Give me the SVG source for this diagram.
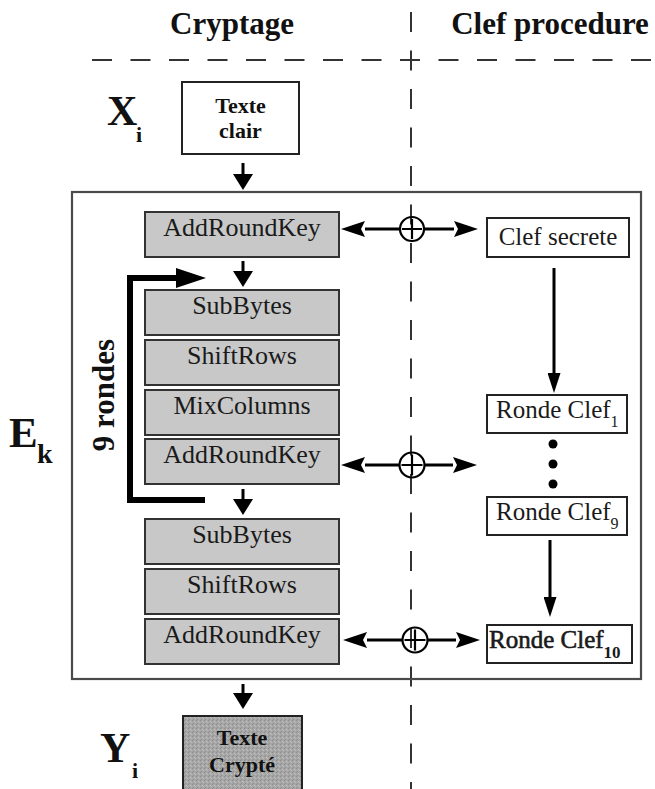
<svg xmlns="http://www.w3.org/2000/svg" width="655" height="789" viewBox="0 0 655 789">
<style>
text{font-family:'Liberation Serif','Times New Roman',serif}
.hdr{font-weight:bold;font-size:31px;fill:#111}
.big{font-weight:bold;fill:#111}
.lbl{font-size:26px;fill:#1a1a1a;text-anchor:middle}
.key{font-size:25px;fill:#1a1a1a}
.btx{font-weight:bold;font-size:22px;fill:#111;text-anchor:middle}
.step{fill:#c8c8c8;stroke:#333;stroke-width:2}
.wbox{fill:#fff;stroke:#222;stroke-width:2}
.dash{fill:none;stroke:#333;stroke-width:2;stroke-dasharray:20 18.5}
.ln{fill:none;stroke:#000;stroke-width:3}
.xor{fill:none;stroke:#000;stroke-width:2.2}
</style>
<defs>
<marker id="hd" viewBox="0 0 24 16" markerWidth="24" markerHeight="16" refX="0" refY="8" orient="auto" markerUnits="userSpaceOnUse"><path d="M0,0 L24,8 L0,16 L4,8 Z" fill="#000"/></marker>
<marker id="dn" viewBox="0 0 16 20" markerWidth="16" markerHeight="20" refX="0" refY="10" orient="auto" markerUnits="userSpaceOnUse"><path d="M0,0 L16,10 L0,20 Z" fill="#000"/></marker>
<marker id="kd" viewBox="0 0 20 13" markerWidth="20" markerHeight="13" refX="0" refY="6.5" orient="auto" markerUnits="userSpaceOnUse"><path d="M0,0 L20,6.5 L0,13 Z" fill="#000"/></marker>
<marker id="lp" viewBox="0 0 30 20" markerWidth="30" markerHeight="20" refX="0" refY="10" orient="auto" markerUnits="userSpaceOnUse"><path d="M0,0 L30,10 L0,20 Z" fill="#000"/></marker>
<pattern id="grain" width="4" height="4" patternUnits="userSpaceOnUse"><rect width="4" height="4" fill="#a6a6a6"/><rect x="0" y="0" width="1" height="1" fill="#8c8c8c"/><rect x="2" y="1" width="1" height="1" fill="#c4c4c4"/><rect x="1" y="3" width="1" height="1" fill="#909090"/><rect x="3" y="2" width="1" height="1" fill="#bcbcbc"/></pattern>
</defs>

<g id="headers">
<text class="hdr" x="232" y="34" text-anchor="middle">Cryptage</text>
<text class="hdr" x="550" y="34" text-anchor="middle">Clef procedure</text>
</g>

<g id="dividers">
<path class="dash" d="M92,60 H655"/>
<path class="dash" d="M411,12 V789"/>
</g>

<g id="Xi"><text class="big" x="107" y="125" font-size="42">X</text><text class="big" x="136" y="142" font-size="22">i</text></g>
<g id="texte-clair">
<rect class="wbox" x="182" y="82" width="117" height="72"/>
<text class="btx" x="240.5" y="113">Texte</text>
<text class="btx" x="240.5" y="138">clair</text>
</g>

<g id="Ek-box"><rect x="72" y="192" width="569" height="487" fill="none" stroke="#4a4a4a" stroke-width="2.2"/></g>
<g id="Ek"><text class="big" x="9" y="447" font-size="43">E</text><text class="big" x="37" y="463" font-size="28">k</text></g>
<g id="rondes"><text class="big" font-size="31" text-anchor="middle" transform="translate(114,395) rotate(-90)">9 rondes</text></g>

<g id="ark0"><rect class="step" x="145" y="212" width="194" height="45"/><text class="lbl" x="242" y="236">AddRoundKey</text></g>
<g id="sb1"><rect class="step" x="145" y="290" width="194" height="45"/><text class="lbl" x="242" y="314">SubBytes</text></g>
<g id="sr1"><rect class="step" x="145" y="340" width="194" height="45"/><text class="lbl" x="242" y="364">ShiftRows</text></g>
<g id="mc1"><rect class="step" x="145" y="390" width="194" height="45"/><text class="lbl" x="242" y="414">MixColumns</text></g>
<g id="ark1"><rect class="step" x="145" y="439" width="194" height="45"/><text class="lbl" x="242" y="463">AddRoundKey</text></g>
<g id="sb2"><rect class="step" x="145" y="519" width="194" height="45"/><text class="lbl" x="242" y="543">SubBytes</text></g>
<g id="sr2"><rect class="step" x="145" y="569" width="194" height="45"/><text class="lbl" x="242" y="593">ShiftRows</text></g>
<g id="ark2"><rect class="step" x="145" y="619" width="194" height="45"/><text class="lbl" x="242" y="643">AddRoundKey</text></g>

<g id="clef-secrete"><rect class="wbox" x="487" y="218" width="142" height="39"/><text class="key" x="558" y="245" text-anchor="middle">Clef secrete</text></g>
<g id="rc1"><rect class="wbox" x="487" y="395" width="140" height="38"/><text class="key" x="496" y="418">Ronde Clef<tspan font-size="16" dy="9">1</tspan></text></g>
<g id="dots"><circle cx="553" cy="444" r="4.5"/><circle cx="553" cy="464" r="4.5"/><circle cx="553" cy="484" r="4.5"/></g>
<g id="rc9"><rect class="wbox" x="487" y="497" width="140" height="38"/><text class="key" x="496" y="520">Ronde Clef<tspan font-size="16" dy="9">9</tspan></text></g>
<g id="rc10"><rect class="wbox" x="487" y="625" width="145" height="38"/><text class="key" x="489" y="648" stroke="#1a1a1a" stroke-width="0.6" font-size="26">Ronde Clef<tspan font-size="17" font-weight="bold" dy="10" stroke-width="0">10</tspan></text></g>

<g id="xor1"><circle class="xor" cx="412" cy="229" r="12"/><path class="xor" d="M402,229 H422 M412,219 V239"/></g>
<g id="xor2"><circle class="xor" cx="412" cy="465" r="12.5"/><path class="xor" d="M401.5,465 H422.5 M412,454.5 V475.5"/></g>
<g id="xor3"><circle class="xor" cx="415" cy="640" r="12.5"/><path class="xor" d="M404.5,640 H425.5 M415,629.5 V650.5"/></g>

<g id="texte-crypte">
<rect x="183" y="716" width="119" height="80" fill="url(#grain)" stroke="#222" stroke-width="2"/>
<text class="btx" x="242" y="745">Texte</text>
<text class="btx" x="242" y="772">Crypté</text>
</g>
<g id="Yi"><text class="big" x="100" y="762" font-size="42">Y</text><text class="big" x="132" y="778" font-size="22">i</text></g>

<g id="connectors">
<path class="ln" d="M243,163 V174" marker-end="url(#dn)"/>
<path class="ln" d="M243,261 V271" marker-end="url(#dn)"/>
<path class="ln" d="M243,489 V499" marker-end="url(#dn)"/>
<path class="ln" d="M243,684 V693" marker-end="url(#dn)"/>
<path d="M205,500 H130 V278 H176" fill="none" stroke="#000" stroke-width="6" marker-end="url(#lp)"/>
<path class="ln" d="M400,229 H365" marker-end="url(#hd)"/>
<path class="ln" d="M424,229 H454" marker-end="url(#hd)"/>
<path class="ln" d="M399,465 H365" marker-end="url(#hd)"/>
<path class="ln" d="M425,465 H453" marker-end="url(#hd)"/>
<path class="ln" d="M402,640 H367" marker-end="url(#hd)"/>
<path class="ln" d="M428,640 H456" marker-end="url(#hd)"/>
<path class="ln" d="M554,268 V373" marker-end="url(#kd)"/>
<path class="ln" d="M550,540 V597" marker-end="url(#kd)"/>
</g>
</svg>
